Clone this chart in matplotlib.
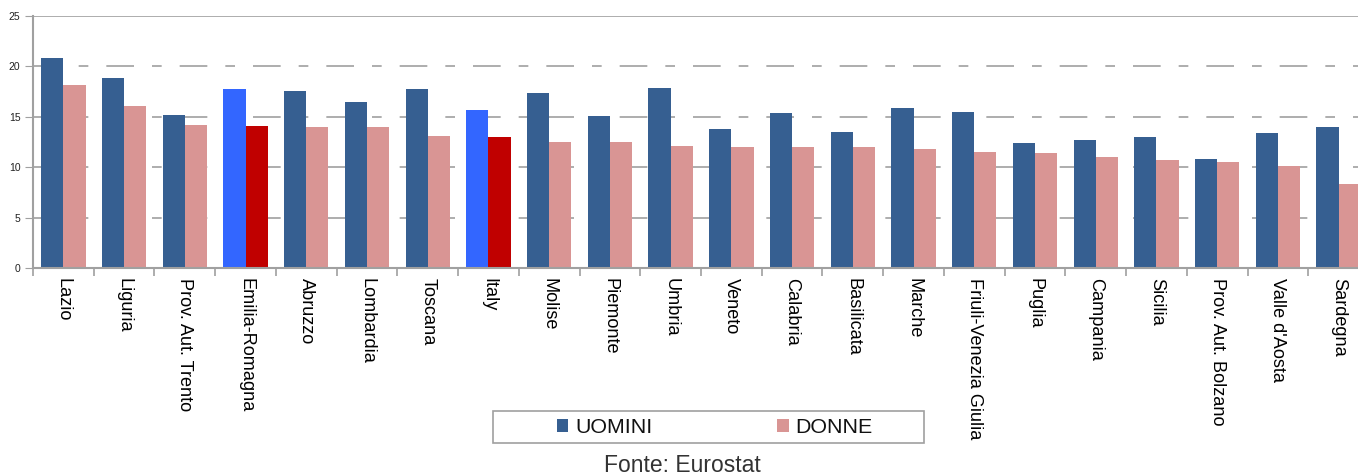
import matplotlib
matplotlib.use("Agg")
import matplotlib.pyplot as plt
import numpy as np
from matplotlib.patches import Patch, Rectangle

regions = ["Lazio", "Liguria", "Prov. Aut. Trento", "Emilia-Romagna", "Abruzzo",
           "Lombardia", "Toscana", "Italy", "Molise", "Piemonte", "Umbria", "Veneto",
           "Calabria", "Basilicata", "Marche", "Friuli-Venezia Giulia", "Puglia",
           "Campania", "Sicilia", "Prov. Aut. Bolzano", "Valle d'Aosta", "Sardegna"]
uomini = [20.8, 18.85, 15.2, 17.75, 17.55, 16.5, 17.75, 15.7, 17.4, 15.1, 17.85, 13.8,
          15.4, 13.5, 15.9, 15.5, 12.4, 12.7, 13.0, 10.8, 13.4, 14.0]
donne = [18.15, 16.1, 14.2, 14.1, 14.0, 14.0, 13.1, 13.0, 12.5, 12.5, 12.1, 12.0,
         12.0, 12.0, 11.8, 11.5, 11.4, 11.0, 10.7, 10.5, 10.1, 8.35]
highlight = ["Emilia-Romagna", "Italy"]
yticks = [0, 5, 10, 15, 20, 25]

C_U = "#365F91"
C_D = "#D99594"
C_UH = "#3366FF"
C_DH = "#C00000"
GRAY = "#A0A0A0"

plt.rcParams['font.family'] = ['Liberation Sans', 'DejaVu Sans']

W, H = 1358, 476
fig = plt.figure(figsize=(W / 100, H / 100), dpi=100)
x0, x1 = 33, 1369
y0, y1 = 268, 16
ax = fig.add_axes([x0 / W, 1 - y0 / H, (x1 - x0) / W, (y0 - y1) / H])

x = np.arange(len(regions))
bw = 0.365
cu = [C_UH if r in highlight else C_U for r in regions]
cd = [C_DH if r in highlight else C_D for r in regions]
ax.bar(x - bw / 2, uomini, bw, color=cu, zorder=3, linewidth=0)
ax.bar(x + bw / 2, donne, bw, color=cd, zorder=3, linewidth=0)

ax.set_xlim(-0.5, len(regions) - 0.5)
ax.set_ylim(0, 25)
ax.set_yticks(yticks)
ax.tick_params(axis='y', direction='out', length=6, color=GRAY, labelsize=7.5, pad=3,
               labelcolor="#222222")
ax.set_xticks(x)
ax.set_xticklabels(regions, rotation=-90, fontsize=13.1, va='top', ha='center')
ax.tick_params(axis='x', which='major', length=0, pad=7)
ax.set_xticks(np.arange(-0.5, len(regions), 1), minor=True)
ax.tick_params(axis='x', which='minor', direction='out', length=6, color=GRAY, width=1.2)

for v in [5, 10, 15, 20]:
    ax.axhline(v, color=GRAY, lw=1.2, dashes=(16.6, 10.8, 5.8, 10.8), zorder=1)
ax.axhline(25, color=GRAY, lw=1.2, zorder=1)

for s in ['top', 'right']:
    ax.spines[s].set_visible(False)
for s in ['left', 'bottom']:
    ax.spines[s].set_color(GRAY)
    ax.spines[s].set_linewidth(1.5)
ax.spines['bottom'].set_zorder(4)

# legend frame
fig.patches.append(Rectangle((493 / W, 1 - 443 / H), 431 / W, 32 / H,
                             transform=fig.transFigure, facecolor='white',
                             edgecolor=GRAY, linewidth=1.2, zorder=1))
handles = [Patch(facecolor=C_U, label="UOMINI"), Patch(facecolor=C_D, label="DONNE")]
leg = fig.legend(handles=handles, ncol=2, loc='center',
                 bbox_to_anchor=(714.5 / W, 1 - 427.5 / H),
                 frameon=False, fontsize=15.4,
                 handlelength=0.55, handleheight=0.55, handletextpad=0.3,
                 columnspacing=5.83, borderaxespad=0, borderpad=0)
leg.set_zorder(2)
for t in leg.get_texts():
    t.set_color("#111111")

fig.text(682.5 / W, 1 - 465 / H, "Fonte: Eurostat", ha='center', va='center',
         fontsize=16.5, color="#333333")

fig.savefig("out.png", dpi=100)
